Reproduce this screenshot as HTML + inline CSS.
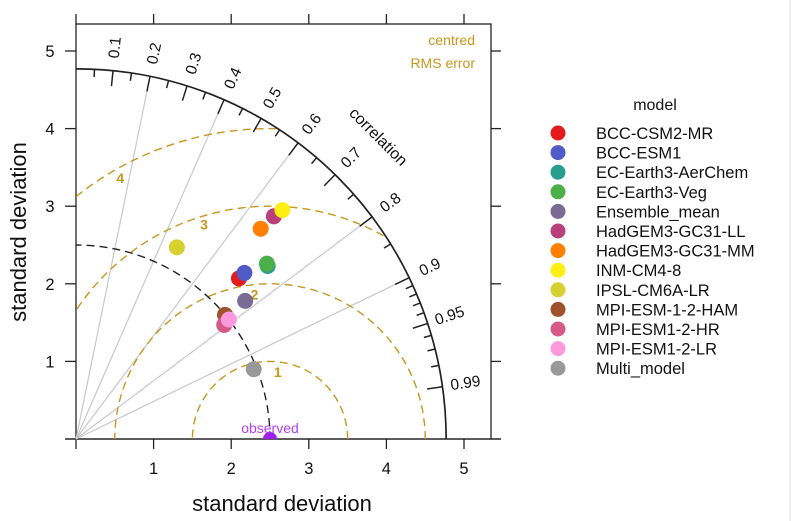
<!DOCTYPE html>
<html><head><meta charset="utf-8">
<style>
html,body{margin:0;padding:0;background:#fff;}
svg{display:block;font-family:"Liberation Sans",Arial,sans-serif;}
</style></head>
<body>
<svg id="chart" width="795" height="521" viewBox="0 0 795 521" xmlns="http://www.w3.org/2000/svg">
<rect x="0" y="0" width="795" height="521" fill="#fff"/>
<line x1="790" y1="0" x2="790" y2="521" stroke="#ddd" stroke-width="1"/>
<g id="plot"></g>
<g id="legend"></g>
</svg>
<script>
const models = ["BCC-CSM2-MR","BCC-ESM1","EC-Earth3-AerChem","EC-Earth3-Veg","Ensemble_mean","HadGEM3-GC31-LL","HadGEM3-GC31-MM","INM-CM4-8","IPSL-CM6A-LR","MPI-ESM-1-2-HAM","MPI-ESM1-2-HR","MPI-ESM1-2-LR","Multi_model"];
const colors = ["#e41a1c","#4f5cc8","#2a9d8f","#4daf4a","#7a6a94","#b8417a","#ff7f00","#ffee11","#d8d030","#a0522d","#d65a88","#ff99dd","#999999"];
const sdX = [2.10,2.17,2.47,2.46,2.18,2.55,2.38,2.66,1.30,1.92,1.91,1.97,2.29];
const sdY = [2.07,2.14,2.23,2.26,1.78,2.87,2.71,2.95,2.47,1.60,1.47,1.54,0.90];
const axisTicks = [0,1,2,3,4,5];
const corrMajor = [0.1,0.2,0.3,0.4,0.5,0.6,0.7,0.8,0.9,0.95,0.99];
const corrMinor = [0.05,0.15,0.25,0.35,0.45,0.55,0.65,0.75,0.85,0.91,0.92,0.93,0.94,0.96,0.97,0.98];
const corrLines = [0.2,0.4,0.6,0.8,0.9];
const rmsLevels = [1,2,3,4];
const obsSd = 2.5;
const maxSd = 4.77;

const NS="http://www.w3.org/2000/svg";
const X0=76, Y0=439, S=77.6;
const sx=v=>X0+v*S, sy=v=>Y0-v*S;
const plot=document.getElementById('plot');
function el(tag,attrs,parent){const e=document.createElementNS(NS,tag);for(const k in attrs)e.setAttribute(k,attrs[k]);(parent||plot).appendChild(e);return e;}

const box=el('rect',{x:X0,y:24,width:491-X0,height:Y0-24,fill:'none',stroke:'#222','stroke-width':1.3});


axisTicks.forEach(t=>{
  let a=el('line',{x1:sx(t),y1:Y0,x2:sx(t),y2:Y0+10,stroke:'#222','stroke-width':1.3});
  
  
  let b=el('line',{x1:sx(t),y1:24,x2:sx(t),y2:14,stroke:'#222','stroke-width':1.3});
  
  
  let c=el('line',{x1:X0-11,y1:sy(t),x2:X0,y2:sy(t),stroke:'#222','stroke-width':1.3});
  
  
  let d=el('line',{x1:491,y1:sy(t),x2:501,y2:sy(t),stroke:'#222','stroke-width':1.3});
  
  
  if(t>0){
    let tx=el('text',{x:sx(t),y:474,'font-size':16.5,'text-anchor':'middle',fill:'#111'});tx.textContent=t;
    
    
    let ty=el('text',{x:50,y:sy(t)+6,'font-size':16.5,'text-anchor':'middle',fill:'#111'});ty.textContent=t;
    
    
  }
});
let bl=el('line',{x1:65,y1:Y0,x2:501,y2:Y0,stroke:'#222','stroke-width':1.3});



corrLines.forEach(c=>{
  const th=Math.acos(c), r=maxSd-0.2;
  let l=el('line',{x1:sx(0),y1:sy(0),x2:sx(r*Math.cos(th)),y2:sy(r*Math.sin(th)),stroke:'#c8c8c8','stroke-width':1.2});
  
  
});

const defs=el('defs',{});
const cp=el('clipPath',{id:'outer'},defs);
el('path',{d:`M${sx(0)},${sy(0)} L${sx(maxSd)},${sy(0)} A${maxSd*S},${maxSd*S} 0 0 0 ${sx(0)},${sy(maxSd)} Z`},cp);

const rg=el('g',{'clip-path':'url(#outer)'});
rmsLevels.forEach(r=>{
  let a=el('path',{d:`M${sx(obsSd+r)},${sy(0)} A${r*S},${r*S} 0 0 0 ${sx(obsSd-r)},${sy(0)}`,fill:'none',stroke:'#c8961e','stroke-width':1.4,'stroke-dasharray':'8,5'},rg);
  
  
});
const rmsLabelPos=[[2.6,0.80],[2.3,1.80],[1.65,2.70],[0.57,3.30]];
rmsLevels.forEach((r,i)=>{
  let t=el('text',{x:sx(rmsLabelPos[i][0]),y:sy(rmsLabelPos[i][1]),'font-size':14,'font-weight':'bold',fill:'#c8961e','text-anchor':'middle'});
  t.textContent=r;
  
  
});
let oa=el('path',{d:`M${sx(obsSd)},${sy(0)} A${obsSd*S},${obsSd*S} 0 0 0 ${sx(0)},${sy(obsSd)}`,fill:'none',stroke:'#222','stroke-width':1.4,'stroke-dasharray':'8,5'});


let ou=el('path',{d:`M${sx(maxSd)},${sy(0)} A${maxSd*S},${maxSd*S} 0 0 0 ${sx(0)},${sy(maxSd)}`,fill:'none',stroke:'#222','stroke-width':1.7});


function tick(c,len){const th=Math.acos(c);const r1=maxSd,r2=maxSd-len;
  return el('line',{x1:sx(r1*Math.cos(th)),y1:sy(r1*Math.sin(th)),x2:sx(r2*Math.cos(th)),y2:sy(r2*Math.sin(th)),stroke:'#222','stroke-width':1.5});}
corrMajor.forEach(c=>{
  let t=tick(c,0.2);
  
  
  const th=Math.acos(c), r=5.07, deg=th*180/Math.PI;
  const px=sx(r*Math.cos(th)), py=sy(r*Math.sin(th));
  let tx=el('text',{x:px,y:py,'font-size':15.5,fill:'#111','text-anchor':'middle','dominant-baseline':'central',transform:`rotate(${-deg} ${px} ${py})`});
  tx.textContent=c;
  
  
});
corrMinor.forEach(c=>{
  let t=tick(c,0.1);
  
  
});
{
  const th=Math.PI/4, r=5.5, px=sx(r*Math.cos(th)), py=sy(r*Math.sin(th));
  let t=el('text',{x:px,y:py,'font-size':16,fill:'#111','text-anchor':'middle','dominant-baseline':'central',transform:`rotate(45 ${px} ${py})`});
  t.textContent='correlation';
  
  
}
let c1=el('text',{x:475,y:45,'font-size':14,fill:'#c8961e','text-anchor':'end'});c1.textContent='centred';


let c2=el('text',{x:475,y:68,'font-size':14,fill:'#c8961e','text-anchor':'end'});c2.textContent='RMS error';



let ob=el('path',{d:`M${sx(obsSd)-7},${sy(0)} A7,7 0 0 1 ${sx(obsSd)+7},${sy(0)} Z`,fill:'#a020f0'});


let ot=el('text',{x:sx(obsSd),y:sy(0)-6,'font-size':14,fill:'#b040f0','text-anchor':'middle'});ot.textContent='observed';



models.forEach((m,i)=>{
  let p=el('circle',{cx:sx(sdX[i]),cy:sy(sdY[i]),r:8,fill:colors[i]});
  
  
});

let xt=el('text',{x:282,y:511,'font-size':22,fill:'#111','text-anchor':'middle'});xt.textContent='standard deviation';


let yt=el('text',{x:26,y:232,'font-size':22,fill:'#111','text-anchor':'middle',transform:'rotate(-90 26 232)'});yt.textContent='standard deviation';



const lg=document.getElementById('legend');
let lt=el('text',{x:655,y:110,'font-size':16,fill:'#111','text-anchor':'middle'},lg);lt.textContent='model';


models.forEach((m,i)=>{
  const y=133+i*19.6;
  let c=el('circle',{cx:558,cy:y,r:7.5,fill:colors[i]},lg);
  
  
  let t=el('text',{x:596,y:y+6,'font-size':16.5,fill:'#111'},lg);t.textContent=m;
  
  
});
</script>
</body></html>
